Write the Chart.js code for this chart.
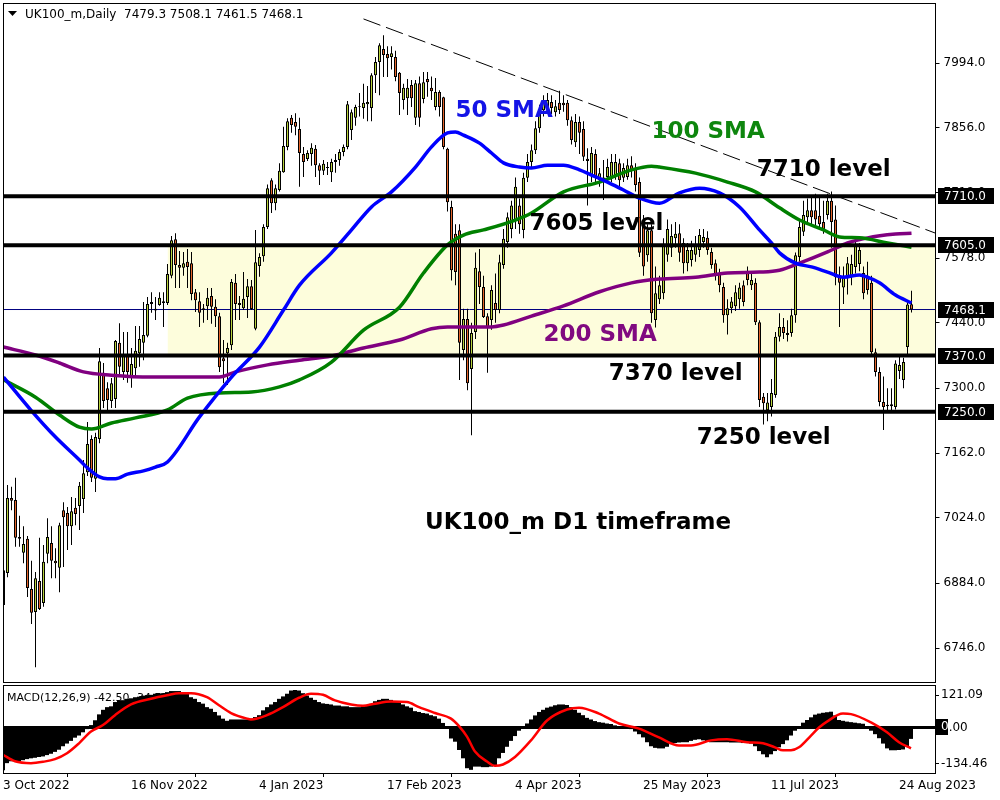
<!DOCTYPE html>
<html><head><meta charset="utf-8">
<script src="https://cdn.jsdelivr.net/npm/chart.js@4/dist/chart.umd.min.js"></script>
<style>
html,body{margin:0;padding:0;background:#fff;}
#wrap{position:relative;width:1000px;height:800px;overflow:hidden;background:#fff;}
#c1{position:absolute;left:0;top:0;}
#c2{position:absolute;left:0;top:683px;}
</style></head><body>
<div id="wrap"><canvas id="c1" width="1000" height="683"></canvas><canvas id="c2" width="1000" height="117"></canvas></div>
<script>
// ---------- DATA ----------
const dateLabels = ['3 Oct 2022','16 Nov 2022','4 Jan 2023','17 Feb 2023','4 Apr 2023','25 May 2023','11 Jul 2023','24 Aug 2023'];
const dateBars = [0,32,64,96,128,160,192,224];
const priceTicks = [7994,7856,7718,7578,7440,7300,7162,7024,6884,6746];
const macdTicks = [121.09,0,-134.46];

const opens = [
6838,6906,7066,7062,6983,6949,6979,6872,6823,6889,
6842,6947,6970,6932,6917,7040,7034,7006,7045,7049,
7064,7121,7192,7107,7192,7333,7300,7273,7277,7397,
7335,7369,7322,7343,7375,7397,7412,7480,7470,7478,
7486,7482,7540,7618,7563,7557,7570,7567,7505,7486,
7471,7475,7497,7474,7454,7364,7375,7392,7525,7482,
7471,7495,7518,7427,7561,7582,7644,7744,7695,7723,
7761,7815,7877,7868,7853,7800,7789,7800,7811,7776,
7764,7772,7761,7783,7787,7804,7815,7851,7877,7902,
7898,7906,7898,7968,7996,8024,8013,8007,8007,7973,
7915,7919,7947,7877,7951,7917,7960,7941,7900,7932,
7921,7811,7687,7630,7637,7382,7448,7341,7420,7550,
7516,7454,7446,7482,7467,7563,7612,7640,7659,7690,
7638,7749,7783,7808,7855,7893,7900,7911,7889,7909,
7909,7909,7872,7825,7868,7853,7790,7755,7800,7744,
7750,7751,7751,7755,7780,7749,7751,7776,7770,7740,
7650,7584,7637,7446,7490,7503,7585,7600,7620,7631,
7610,7567,7574,7585,7595,7612,7621,7591,7567,7546,
7516,7456,7471,7475,7490,7520,7546,7520,7525,7441,
7282,7253,7260,7286,7410,7431,7418,7418,7456,7580,
7634,7665,7680,7680,7668,7655,7670,7700,7660,7540,
7515,7535,7540,7559,7565,7546,7540,7525,7377,7335,
7271,7265,7262,7260,7337,7318,7388,7479.3];
const highs = [
6938,7094,7090,7109,7028,7006,6985,6932,6908,6981,
6966,7023,7006,6959,7013,7057,7047,7068,7066,7100,
7147,7228,7200,7205,7386,7354,7313,7322,7403,7439,
7420,7420,7386,7433,7433,7484,7495,7505,7495,7505,
7505,7565,7625,7631,7593,7591,7597,7591,7512,7505,
7480,7514,7514,7490,7461,7403,7397,7533,7544,7497,
7548,7533,7531,7638,7588,7650,7735,7748,7735,7780,
7858,7876,7883,7887,7877,7815,7808,7823,7819,7780,
7787,7783,7790,7800,7810,7820,7913,7895,7905,7930,
7950,7945,7972,8007,8036,8053,8030,8030,8020,7975,
7950,7960,7958,7958,7965,7975,7975,7965,7962,7936,
7922,7813,7700,7650,7650,7470,7470,7440,7590,7597,
7540,7460,7520,7545,7585,7640,7675,7700,7750,7705,
7760,7800,7820,7870,7905,7925,7930,7925,7915,7935,
7925,7915,7880,7885,7880,7870,7812,7815,7810,7770,
7787,7790,7800,7800,7790,7780,7790,7795,7780,7750,
7670,7650,7650,7560,7540,7620,7660,7650,7655,7650,
7620,7610,7615,7625,7640,7640,7635,7600,7575,7555,
7525,7490,7495,7520,7525,7530,7560,7545,7535,7445,
7290,7290,7320,7420,7460,7450,7445,7470,7590,7660,
7700,7705,7710,7715,7710,7700,7715,7720,7690,7560,
7560,7580,7585,7615,7610,7560,7570,7540,7385,7345,
7325,7300,7300,7360,7370,7365,7485,7508.1];
const lows = [
6784,6897,7040,6962,6962,6927,6855,6797,6705,6827,
6834,6927,6895,6895,6865,6919,6955,6966,7008,6998,
7034,7113,7100,7079,7183,7258,7254,7258,7258,7324,
7318,7312,7301,7322,7346,7360,7409,7461,7446,7476,
7431,7478,7535,7514,7514,7540,7514,7488,7463,7431,
7440,7446,7438,7431,7335,7311,7307,7382,7446,7446,
7467,7450,7467,7424,7538,7570,7640,7674,7680,7720,
7760,7808,7845,7840,7730,7751,7785,7775,7751,7734,
7755,7755,7740,7760,7775,7795,7810,7830,7860,7880,
7875,7870,7870,7930,7925,7964,7964,7980,7955,7883,
7895,7883,7900,7862,7858,7908,7922,7915,7893,7880,
7810,7677,7530,7520,7318,7360,7296,7200,7405,7480,
7450,7333,7425,7440,7460,7555,7600,7620,7640,7630,
7620,7740,7770,7800,7845,7880,7890,7885,7880,7885,
7890,7860,7820,7815,7800,7785,7690,7740,7740,7730,
7702,7740,7740,7745,7730,7740,7745,7750,7720,7580,
7540,7570,7440,7430,7480,7490,7570,7580,7600,7570,
7545,7550,7560,7570,7580,7600,7585,7555,7530,7505,
7440,7415,7460,7465,7470,7475,7520,7510,7435,7260,
7223,7230,7240,7280,7400,7405,7400,7410,7440,7570,
7625,7650,7650,7645,7640,7630,7660,7600,7520,7431,
7480,7500,7520,7545,7550,7490,7500,7370,7325,7262,
7211,7250,7248,7255,7320,7300,7370,7461.5];
const closes = [
6912,7066,7060,6981,6979,6968,6874,6821,6895,6829,
6930,6983,6932,6927,7008,7025,7006,7038,7032,7092,
7119,7181,7109,7196,7358,7273,7275,7311,7401,7346,
7369,7335,7352,7380,7405,7414,7480,7484,7466,7493,
7482,7544,7616,7563,7557,7567,7559,7501,7488,7461,
7467,7493,7474,7454,7345,7358,7386,7527,7480,7478,
7491,7518,7469,7569,7580,7644,7727,7695,7727,7764,
7817,7870,7862,7858,7802,7783,7802,7813,7776,7764,
7779,7770,7783,7787,7804,7815,7906,7889,7900,7900,
7909,7911,7968,7996,8032,8011,8004,8015,7964,7930,
7941,7941,7919,7951,7877,7953,7953,7934,7932,7900,
7815,7697,7552,7548,7397,7448,7311,7418,7557,7516,
7452,7431,7510,7467,7569,7619,7665,7690,7730,7650,
7749,7783,7808,7855,7894,7915,7915,7898,7902,7894,
7904,7872,7830,7868,7845,7794,7785,7802,7751,7759,
7745,7772,7783,7783,7744,7770,7776,7766,7734,7589,
7560,7637,7460,7503,7520,7606,7640,7625,7630,7589,
7567,7595,7595,7606,7627,7623,7595,7563,7542,7520,
7456,7471,7485,7505,7515,7484,7531,7531,7441,7275,
7268,7270,7290,7410,7431,7418,7414,7456,7584,7644,
7670,7680,7665,7660,7650,7640,7700,7655,7537,7525,
7537,7567,7565,7606,7595,7503,7510,7377,7335,7271,
7260,7262,7266,7353,7350,7356,7479,7468.1];

// moving averages: [bar, value]
const sma50 = [[0,7324],[7,7252],[13,7196],[19,7147],[21,7130],[24,7111],[26,7107],[28,7107],[31,7117],[35,7124],[38,7132],[41,7143],[49,7239],[57,7324],[64,7388],[70,7467],[74,7520],[82,7589],[87,7638],[92,7687],[97,7719],[103,7772],[107,7815],[111,7845],[113,7847],[115,7840],[119,7823],[122,7802],[125,7781],[129,7772],[132,7770],[136,7776],[140,7776],[144,7766],[147,7755],[151,7740],[155,7723],[159,7706],[164,7695],[169,7717],[174,7727],[179,7717],[184,7687],[189,7638],[192,7610],[194,7589],[198,7567],[202,7559],[206,7548],[210,7537],[214,7542],[216,7537],[219,7525],[223,7499],[227,7482]];
const sma100 = [[0,7318],[8,7281],[14,7243],[19,7217],[22,7213],[27,7226],[33,7237],[41,7254],[46,7279],[54,7290],[62,7292],[69,7303],[74,7318],[82,7356],[90,7424],[99,7473],[105,7546],[111,7606],[115,7627],[120,7638],[128,7659],[132,7674],[140,7719],[149,7740],[157,7766],[162,7774],[164,7772],[173,7759],[181,7740],[188,7719],[194,7685],[199,7659],[205,7638],[209,7623],[214,7621],[221,7610],[227,7601]];
const sma200 = [[0,7388],[8,7371],[14,7354],[20,7335],[27,7328],[37,7324],[45,7324],[54,7324],[58,7335],[66,7350],[74,7360],[82,7369],[90,7386],[99,7403],[107,7427],[111,7431],[115,7431],[122,7431],[125,7435],[132,7454],[140,7476],[149,7506],[157,7525],[164,7533],[173,7537],[181,7546],[189,7548],[194,7552],[199,7567],[206,7591],[211,7610],[216,7621],[223,7629],[227,7631]];

const levels = [7710,7605,7370,7250];
const lastPrice = [7468.1];
const zoneBars = [41,233];
const zonePrices = [7605,7370];
const trendBars = [90,233];
const trendPrices = [8088,7631];

const macdMain = [
-160,-133,-126,-126,-126,-122,-118,-115,-113,-110,
-108,-103,-98,-91,-83,-70,-60,-50,-38,-30,
-18,-6,9,27,49,66,76,79,95,102,
102,107,109,113,115,119,121,122,126,126,
128,132,136,136,136,132,126,113,107,95,
89,76,70,58,45,33,25,30,30,30,
30,30,33,39,46,64,76,86,95,107,
116,126,138,140,138,128,119,111,103,95,
90,88,86,82,82,79,79,76,76,76,
79,82,88,98,103,107,107,103,98,95,
86,79,74,61,58,54,52,46,42,33,
17,2,-41,-53,-84,-115,-152,-158,-146,-146,
-148,-148,-146,-140,-115,-95,-72,-50,-32,-12,
5,15,30,45,58,66,74,78,83,86,
86,84,76,66,55,46,36,30,24,20,
18,15,13,8,2,-2,-4,-6,-15,-25,
-37,-55,-70,-76,-78,-78,-72,-62,-58,-56,
-55,-55,-50,-46,-44,-48,-52,-55,-55,-55,
-55,-55,-56,-56,-56,-58,-58,-60,-70,-88,
-100,-111,-100,-88,-74,-62,-48,-30,-12,2,
18,28,38,48,52,55,57,59,45,28,
25,22,20,18,16,14,0,-12,-25,-40,
-60,-78,-85,-85,-84,-82,-72,-42.5];
const macdSignal = [[0,-102],[3,-126],[7,-133],[10,-128],[13,-118],[16,-96],[19,-59],[22,-15],[25,9],[28,46],[32,86],[37,107],[41,120],[44,128],[47,128],[51,113],[54,83],[57,54],[61,33],[62,30],[66,46],[70,76],[74,111],[77,126],[80,122],[83,101],[87,86],[90,81],[93,89],[97,97],[101,95],[104,76],[108,54],[112,33],[114,5],[116,-34],[118,-90],[121,-127],[123,-143],[125,-138],[128,-110],[132,-48],[136,26],[141,67],[144,74],[149,52],[154,15],[159,-4],[164,-37],[169,-67],[172,-67],[177,-48],[181,-44],[186,-55],[190,-59],[193,-74],[195,-85],[197,-85],[199,-74],[202,-30],[204,0],[206,22],[210,52],[212,50],[217,19],[221,-18],[224,-55],[227,-78]];

// ---------- SETTINGS ----------
const X_MAX = 233;
const P_MAX = 8122, P_MIN = 6673.5;
const M_MAX = 158.6, M_MIN = -169.8;
const BULL = '#B8D23C', BEAR = '#E4642A';
const FONT = '"DejaVu Sans", Verdana, sans-serif';

const idx = opens.map((_, i) => i);
const pts = a => a.map(([x, y]) => ({x, y}));
const hline = (v, a = 0, b = X_MAX) => [{x: a, y: v}, {x: b, y: v}];

const annotations = [
  {text: '50 SMA', bar: 113, price: 7878, color: '#1414E6'},
  {text: '100 SMA', bar: 162, price: 7835, color: '#0E860E'},
  {text: '7710 level', bar: 188.3, price: 7752, color: '#000'},
  {text: '7605 level', bar: 131.5, price: 7637, color: '#000'},
  {text: '200 SMA', bar: 135, price: 7401, color: '#800A80'},
  {text: '7370 level', bar: 151.3, price: 7318, color: '#000'},
  {text: '7250 level', bar: 173.3, price: 7182, color: '#000'},
  {text: 'UK100_m D1 timeframe', bar: 105.4, price: 6999, color: '#000'}
];

function frame(chart) {
  const a = chart.chartArea, c = chart.ctx;
  c.save();
  c.strokeStyle = '#000'; c.lineWidth = 1;
  const l = Math.floor(a.left) + 0.5, r = Math.floor(a.right) + 0.5;
  const t = Math.floor(a.top) + 0.5, b = Math.floor(a.bottom) + 0.5;
  c.strokeRect(l, t, r - l, b - t);
  c.restore();
}

const mainPlugin = {
  id: 'mainDecor',
  afterDatasetsDraw(chart) {
    const c = chart.ctx, xs = chart.scales.x, ys = chart.scales.y;
    c.save();
    c.font = 'bold 23px ' + FONT;
    c.textBaseline = 'alphabetic';
    c.textAlign = 'left';
    annotations.forEach(n => {
      c.fillStyle = n.color;
      c.fillText(n.text, xs.getPixelForValue(n.bar), ys.getPixelForValue(n.price));
    });
    c.restore();
  },
  afterDraw(chart) {
    frame(chart);
    const c = chart.ctx, ys = chart.scales.y, a = chart.chartArea;
    c.save();
    c.font = '12px ' + FONT;
    c.textBaseline = 'middle';
    c.textAlign = 'left';
    [...levels, ...lastPrice].forEach(v => {
      const y = Math.round(ys.getPixelForValue(v));
      c.fillStyle = '#000';
      c.fillRect(Math.round(a.right) + 2, y - 8, 56, 16);
      c.fillStyle = '#fff';
      c.fillText(v.toFixed(1), Math.round(a.right) + 8, y + 1);
    });
    // header
    c.fillStyle = '#000';
    c.beginPath(); c.moveTo(8, 11); c.lineTo(17, 11); c.lineTo(12.5, 16); c.closePath(); c.fill();
    c.fillText('UK100_m,Daily  7479.3 7508.1 7461.5 7468.1', 25, 15);
    c.restore();
  }
};

const main = new Chart(document.getElementById('c1'), {
  type: 'line',
  data: {
    datasets: [
      {type: 'line', data: hline(zonePrices[0], zoneBars[0], zoneBars[1]), borderColor: 'rgba(0,0,0,0)', backgroundColor: '#FDFDDC', fill: '+1', pointRadius: 0, order: 100, clip: 0},
      {type: 'line', data: hline(zonePrices[1], zoneBars[0], zoneBars[1]), borderColor: 'rgba(0,0,0,0)', fill: false, pointRadius: 0, order: 99, clip: 0},
      {type: 'line', data: hline(lastPrice[0]), borderColor: '#000080', borderWidth: 1, pointRadius: 0, fill: false, order: 60, clip: 0},
      {type: 'bar', data: idx.map(i => ({x: i, y: [lows[i], highs[i]]})), backgroundColor: '#000', barThickness: 1, inflateAmount: 0, grouped: false, order: 50, clip: 0},
      {type: 'bar', data: idx.map(i => ({x: i, y: [opens[i], closes[i]]})), backgroundColor: idx.map(i => closes[i] >= opens[i] ? BULL : BEAR), borderColor: '#000', borderWidth: 1, borderSkipped: false, inflateAmount: 0, barThickness: 3, grouped: false, order: 40, clip: 0},
      {type: 'line', data: pts(sma200), borderColor: '#800080', borderWidth: 3.5, pointRadius: 0, fill: false, cubicInterpolationMode: 'monotone', order: 32, clip: 0},
      {type: 'line', data: pts(sma100), borderColor: '#008000', borderWidth: 3.5, pointRadius: 0, fill: false, cubicInterpolationMode: 'monotone', order: 31, clip: 0},
      {type: 'line', data: pts(sma50), borderColor: '#0000FF', borderWidth: 3.5, pointRadius: 0, fill: false, cubicInterpolationMode: 'monotone', order: 30, clip: 0},
      ...levels.map(v => ({type: 'line', data: hline(v), borderColor: '#000', borderWidth: 4, pointRadius: 0, fill: false, order: 20, clip: 0})),
      {type: 'line', data: trendBars.map((b, k) => ({x: b, y: trendPrices[k]})), borderColor: '#000', borderWidth: 1, borderDash: [18, 6], pointRadius: 0, fill: false, order: 10, clip: 0}
    ]
  },
  options: {
    responsive: false, animation: false, devicePixelRatio: 1, events: [],
    layout: {padding: {left: 3.5, top: 3, right: 0, bottom: 1}},
    plugins: {legend: {display: false}, tooltip: {enabled: false}},
    scales: {
      x: {type: 'linear', min: 0, max: X_MAX, display: false, offset: false},
      y: {
        type: 'linear', position: 'right', min: P_MIN, max: P_MAX,
        grid: {display: true, drawOnChartArea: false, drawTicks: true, tickLength: 4, color: '#000'},
        border: {display: true, color: '#000', width: 1},
        ticks: {color: '#000', font: {family: FONT, size: 12}, padding: 4, autoSkip: false, callback: v => Number(v).toFixed(1)},
        afterBuildTicks: s => { s.ticks = priceTicks.map(v => ({value: v})); },
        afterFit: s => { s.width = 64.5; s.paddingTop = 0; s.paddingBottom = 0; }
      }
    }
  },
  plugins: [mainPlugin]
});

const macdPlugin = {
  id: 'macdDecor',
  beforeDatasetsDraw(chart) {
    const c = chart.ctx;
    c.save();
    c.font = '11px ' + FONT;
    c.fillStyle = '#000';
    c.textBaseline = 'middle';
    c.fillText('MACD(12,26,9) -42.50 -34.77', 7, 15);
    c.restore();
  },
  afterDraw(chart) {
    frame(chart);
    const c = chart.ctx, ys = chart.scales.y, a = chart.chartArea;
    const y = Math.round(ys.getPixelForValue(0));
    const bx = Math.round(a.right) + 1, bw = 12;
    c.save();
    c.fillStyle = '#000';
    c.fillRect(bx, y - 8, bw, 16);
    c.beginPath(); c.rect(bx, y - 8, bw, 16); c.clip();
    c.font = '12px ' + FONT;
    c.textBaseline = 'middle';
    c.fillStyle = '#fff';
    c.fillText('0.00', Math.round(a.right) + 6, y);
    c.restore();
  }
};

const macd = new Chart(document.getElementById('c2'), {
  type: 'line',
  data: {
    datasets: [
      {type: 'line', data: pts(macdSignal), borderColor: '#FF0000', borderWidth: 2.5, pointRadius: 0, fill: false, cubicInterpolationMode: 'monotone', order: 1, clip: 0},
      {type: 'line', data: hline(0), borderColor: '#000', borderWidth: 3, pointRadius: 0, fill: false, order: 5, clip: 0},
      {type: 'bar', data: idx.map(i => ({x: i, y: macdMain[i]})), backgroundColor: '#000', barThickness: 4, inflateAmount: 0, grouped: false, order: 10, clip: 0}
    ]
  },
  options: {
    responsive: false, animation: false, devicePixelRatio: 1, events: [],
    layout: {padding: {left: 3, top: 2, right: 0, bottom: 0}},
    plugins: {legend: {display: false}, tooltip: {enabled: false}},
    scales: {
      x: {
        type: 'linear', min: 0, max: X_MAX, position: 'bottom', offset: false,
        grid: {display: true, drawOnChartArea: false, drawTicks: true, tickLength: 4, color: '#000'},
        border: {display: true, color: '#000'},
        ticks: {align: 'start', maxRotation: 0, autoSkip: false, color: '#000', font: {family: FONT, size: 12}, padding: 2,
          callback: v => dateLabels[dateBars.indexOf(v)]},
        afterBuildTicks: s => { s.ticks = dateBars.map(v => ({value: v})); },
        afterFit: s => { s.height = 27; s.paddingLeft = 0; s.paddingRight = 0; }
      },
      y: {
        type: 'linear', position: 'right', min: M_MIN, max: M_MAX,
        grid: {display: true, drawOnChartArea: false, drawTicks: true, tickLength: 4, color: '#000'},
        border: {display: true, color: '#000'},
        ticks: {color: '#000', font: {family: FONT, size: 12}, padding: 2, autoSkip: false, callback: v => Number(v).toFixed(2)},
        afterBuildTicks: s => { s.ticks = macdTicks.map(v => ({value: v})); },
        afterFit: s => { s.width = 65; s.paddingTop = 0; s.paddingBottom = 0; }
      }
    }
  },
  plugins: [macdPlugin]
});
</script>
</body></html>
